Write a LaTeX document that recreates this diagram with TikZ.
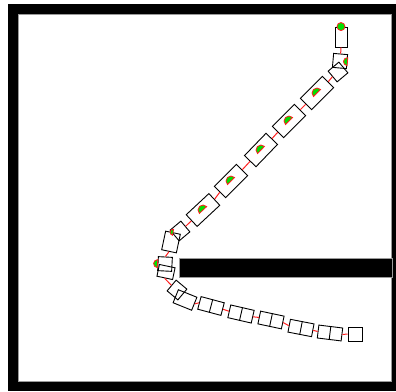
\documentclass[tikz,border=0pt]{standalone}
\usepackage{tikz}
\usetikzlibrary{calc}
\definecolor{Wall}{HTML}{000000}
\definecolor{Edge}{HTML}{9A9A9A}
\definecolor{Tie}{HTML}{FF2020}
\definecolor{Pad}{HTML}{00E000}

\begin{document}
\begin{tikzpicture}[x=1pt,y=-1pt,
  seg/.style={draw,line width=0.9pt,rectangle,inner sep=0pt,minimum width=31pt,minimum height=16pt},
  low/.style={draw,line width=0.9pt,rectangle,inner sep=0pt,minimum width=24pt,minimum height=13pt},
  box/.style={draw,line width=0.9pt,rectangle,inner sep=0pt,minimum size=14pt},
  tie/.style={draw=Tie,line width=1pt},
  pad/.style={fill=Pad,draw=Tie,line width=0.8pt}]
  \useasboundingbox (0,0) rectangle (396,391);
  % arena
  \fill[Wall] (8,4) rectangle (396,391);
  \fill[white,draw=Edge,line width=0.8pt] (18,14) rectangle (391,381);
  \fill[Wall,draw=Edge,line width=0.6pt] (179,258) rectangle (392,277);
  % chain, head to tail
  \node[box,minimum width=12pt,minimum height=20pt] (head) at (341,37) {};
  \node[box,rotate=-5] (s2a) at (340,61) {};
  \node[box,rotate=40] (s2b) at (338,72) {};
  \node[seg,rotate=45] (d1) at (317,93) {};
  \node[seg,rotate=45] (d2) at (289,121) {};
  \node[seg,rotate=46] (d3) at (261,150) {};
  \node[seg,rotate=45] (d4) at (231,181) {};
  \node[seg,rotate=43] (d5) at (203,210) {};
  \node[box,rotate=40] (b1a) at (180,231) {};
  \node[box,minimum width=19pt,minimum height=15pt,rotate=78] (b1b) at (171,242) {};
  \node[box,rotate=-3] (b2a) at (165,264) {};
  \node[box,minimum width=16pt,minimum height=12pt,rotate=-12] (b2b) at (166,272) {};
  \node[box,rotate=50] (b3a) at (177,290) {};
  \node[box,minimum width=20pt,minimum height=14pt,rotate=-22] (b3b) at (185,300) {};
  \node[low,rotate=-15] (l1) at (211,306) {};
  \node[low,rotate=-13] (l2) at (241,314) {};
  \node[low,rotate=-12] (l3) at (271,320) {};
  \node[low,rotate=-11] (l4) at (301,328) {};
  \node[low,rotate=-7] (l5) at (330,333) {};
  \node[box] (tail) at (355,334) {};
  \foreach \n in {l1,l2,l3,l4,l5}
    \draw[line width=0.9pt] (\n.north)--(\n.south);
  % joints
  \draw[tie] (head.south)--(s2a.north);
  \draw[tie] (s2b.west)--(d1.east);
  \foreach \a/\b in {d1/d2,d2/d3,d3/d4,d4/d5,d5/b1a}
    \draw[tie] (\a.west)--(\b.east);
  \draw[tie] (b1b.west)--(b2a.north);
  \draw[tie] (b2b.south)--(b3a.north);
  \draw[tie] (b3b.east)--(l1.west);
  \foreach \a/\b in {l1/l2,l2/l3,l3/l4,l4/l5,l5/tail}
    \draw[tie] (\a.east)--(\b.west);
  % pads
  \filldraw[pad] (head.north) circle[radius=4pt];
  \foreach \n/\r in {d1/45,d2/45,d3/46,d4/45,d5/43}
    \filldraw[pad] (\n.center) ++(\r:5pt) arc[start angle=\r,end angle=\r+180,radius=5pt] -- cycle;
  \filldraw[pad] (s2a.east) ++(85:4pt) arc[start angle=85,end angle=265,radius=4pt] -- cycle;
  \filldraw[pad] (b1b.east) ++(80:3pt) arc[start angle=80,end angle=260,radius=3pt] -- cycle;
  \filldraw[pad] (b2a.west) ++(87:4pt) arc[start angle=87,end angle=267,radius=4pt] -- cycle;
\end{tikzpicture}
\end{document}
